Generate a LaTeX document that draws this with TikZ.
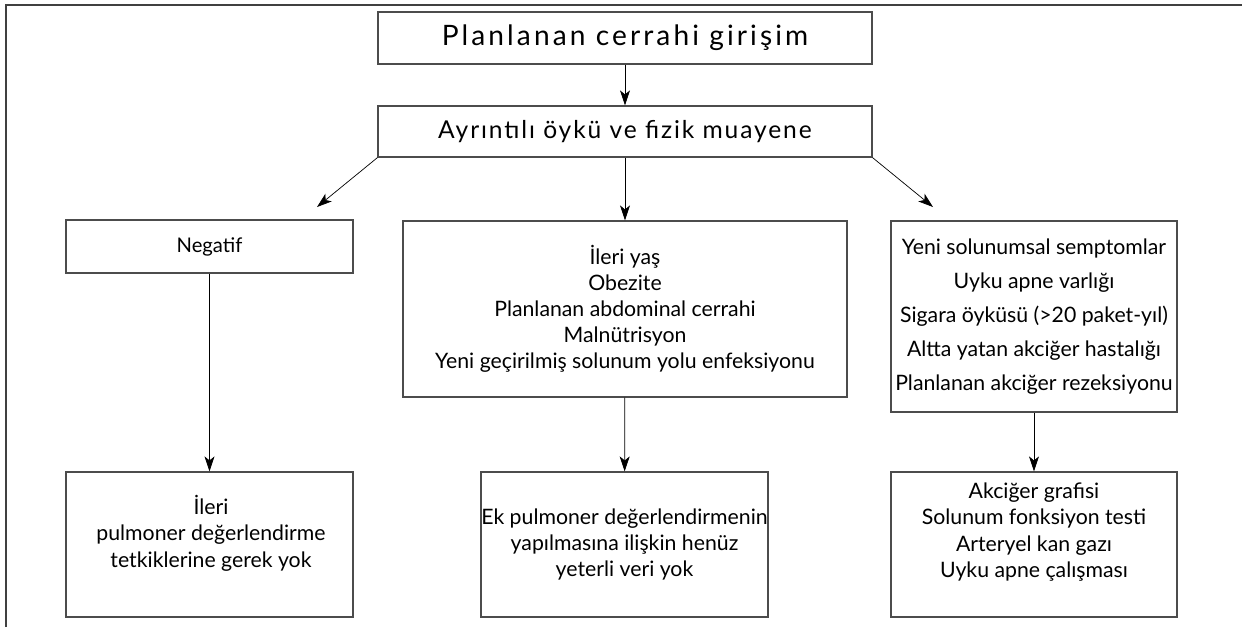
\documentclass[tikz,border=0pt]{standalone}
\usepackage{fontspec}
\setmainfont{Lato}
\usetikzlibrary{arrows.meta}
\tikzset{
  kutu/.style={draw=black!70, line width=0.7pt, align=center, inner sep=0pt,
    font=\fontsize{12.1}{14.8}\selectfont},
  yazi/.style={align=center, inner sep=0pt, font=\fontsize{12.1}{15}\selectfont}
}
\begin{document}
\begin{tikzpicture}[x=0.02cm, y=-0.02cm, >={Stealth[length=0.3cm, width=0.2cm, inset=0.08cm]}]
\useasboundingbox (0,0) rectangle (1242,627);
\draw [black!75, line width=0.8pt] (6,627) -- (6,5) -- (1242,5);

\node [kutu, minimum width=9.88cm, minimum height=1.04cm, font=\fontsize{16}{19}\selectfont\addfontfeature{LetterSpace=11}] (plan) at (625,38) {Planlanan cerrahi girişim};
\node [kutu, minimum width=9.88cm, minimum height=1.02cm, font=\fontsize{14}{17}\selectfont\addfontfeature{LetterSpace=7.7}] (oyku) at (625,131.5) {Ayrıntılı öykü ve fizik muayene};

\node [kutu, minimum width=5.74cm, minimum height=1.06cm, font=\fontsize{11.5}{14}\selectfont] (negatif) at (209.5,246.5) {Negatif};
\node [kutu, minimum width=8.88cm, minimum height=3.52cm] (risk) at (625,309) {İleri yaş\\Obezite\\Planlanan abdominal cerrahi\\Malnütrisyon\\Yeni geçirilmiş solunum yolu enfeksiyonu};
\node [kutu, minimum width=5.72cm, minimum height=3.82cm, font=\fontsize{12.1}{19.4}\selectfont] (yuksek) at (1034,316.5) {Yeni solunumsal semptomlar\\Uyku apne varlığı\\Sigara öyküsü (>20 paket-yıl)\\Altta yatan akciğer hastalığı\\Planlanan akciğer rezeksiyonu};

\node [kutu, minimum width=5.74cm, minimum height=2.9cm] (gerekyok) at (209.5,544.5) {};
\node [yazi] (gerekyoky) at (211,533) {İleri\\pulmoner değerlendirme\\tetkiklerine gerek yok};
\node [kutu, minimum width=5.74cm, minimum height=2.9cm] (veriyok) at (624.5,544.5) {Ek pulmoner değerlendirmenin\\yapılmasına ilişkin henüz\\yeterli veri yok};
\node [kutu, minimum width=5.72cm, minimum height=2.9cm] (tetkik) at (1034,544.5) {};
\node [yazi] (tetkiky) at (1034,532) {Akciğer grafisi\\Solunum fonksiyon testi\\Arteryel kan gazı\\Uyku apne çalışması};

\coordinate (solucu) at (317,207);
\coordinate (sagucu) at (933,207);

\draw [->] (plan) -- (oyku);
\draw [->] (oyku.south west) -- (solucu);
\draw [->] (oyku) -- (risk);
\draw [->] (oyku.south east) -- (sagucu);
\foreach \a/\b in {negatif/gerekyok,risk/veriyok,yuksek/tetkik}
  \draw [->] (\a) -- (\b);
\end{tikzpicture}
\end{document}
